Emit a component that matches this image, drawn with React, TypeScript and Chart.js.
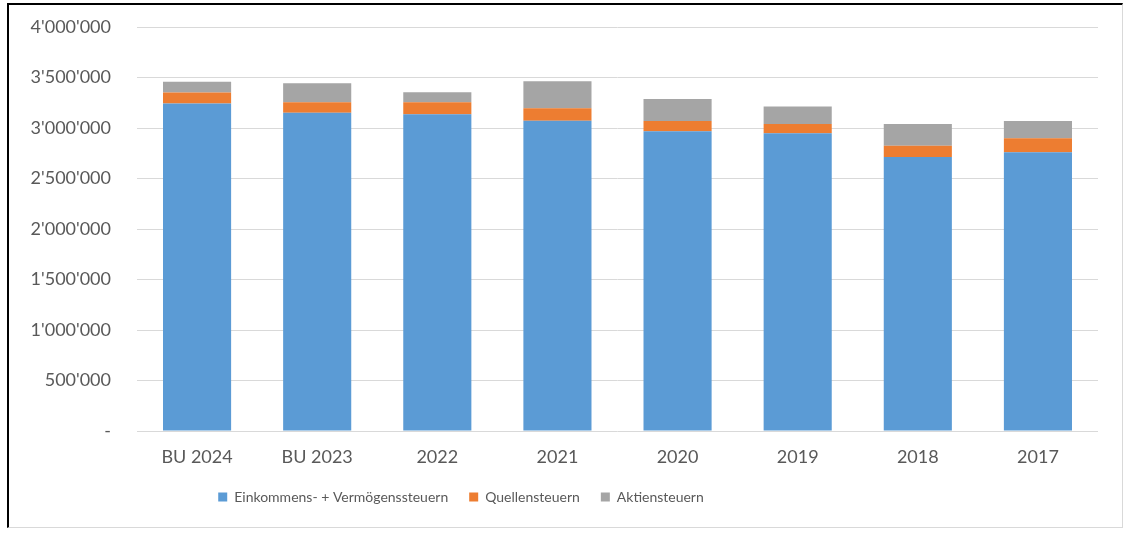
import React, { useEffect, useRef } from "react";
import { Chart, registerables } from "chart.js";

Chart.register(...registerables);

const categories = ["BU 2024", "BU 2023", "2022", "2021", "2020", "2019", "2018", "2017"];
const einkommen = [3243000, 3152000, 3136000, 3072000, 2967000, 2947000, 2713000, 2759000];
const quellen = [109000, 103000, 119000, 123000, 102000, 92000, 112000, 139000];
const aktien = [107000, 188000, 99000, 267000, 218000, 175000, 215000, 171000];
const seriesNames = ["Einkommens- + Vermögenssteuern", "Quellensteuern", "Aktiensteuern"];

const FONT = "Lato";
const LEGEND_SHIFT = -98;

function fmt(v: number): string {
  if (v === 0) return "-";
  return String(Math.round(v)).replace(/\B(?=(\d{3})+(?!\d))/g, "'");
}

const legendShift = {
  id: "legendShift",
  afterLayout(chart: any) {
    const lg = chart.legend;
    if (lg) {
      lg.left += LEGEND_SHIFT;
      lg.right += LEGEND_SHIFT;
    }
  },
};

export default function App() {
  const ref = useRef<HTMLCanvasElement | null>(null);
  useEffect(() => {
    document.body.style.margin = "0";
    const ctx = ref.current!.getContext("2d")!;
    const chart = new Chart(ctx, {
      type: "bar",
      data: {
        labels: categories,
        datasets: [
          { label: seriesNames[0], data: einkommen, backgroundColor: "#5B9BD5" },
          { label: seriesNames[1], data: quellen, backgroundColor: "#ED7D31" },
          { label: seriesNames[2], data: aktien, backgroundColor: "#A5A5A5" },
        ],
      },
      options: {
        animation: false,
        responsive: false,
        maintainAspectRatio: false,
        layout: { padding: { left: 20, right: 30, top: 27, bottom: 23 } },
        datasets: { bar: { barPercentage: 0.567, categoryPercentage: 1 } },
        scales: {
          x: {
            stacked: true,
            grid: { display: false, drawTicks: false },
            border: { display: false },
            afterFit: (s: any) => { s.height = 38; },
            ticks: { color: "#595959", font: { family: FONT, size: 18 }, padding: 15 },
          },
          y: {
            stacked: true,
            min: 0,
            max: 4000000,
            afterFit: (s: any) => { s.width = 117; s.paddingTop = 0; s.paddingBottom = 0; },
            grid: { color: "#d9d9d9", lineWidth: 1, drawTicks: false },
            border: { display: false },
            ticks: {
              stepSize: 500000,
              color: "#595959",
              font: { family: FONT, size: 18 },
              padding: 26,
              callback: (v: any) => fmt(Number(v)),
            },
          },
        },
        plugins: {
          legend: {
            position: "bottom",
            labels: {
              boxWidth: 9,
              boxHeight: 9,
              padding: 21,
              color: "#595959",
              font: { family: FONT, size: 14 },
            },
          },
          tooltip: { enabled: false },
        },
      },
      plugins: [legendShift],
    });
    return () => chart.destroy();
  }, []);
  return (
    <div style={{ position: "relative", width: 1128, height: 537, background: "#fff" }}>
      <div
        style={{
          position: "absolute",
          left: 7,
          top: 3,
          width: 1113,
          height: 522,
          borderTop: "2px solid #000",
          borderLeft: "2px solid #000",
          borderRight: "1px solid #d9d9d9",
          borderBottom: "1px solid #d9d9d9",
        }}
      />
      <canvas ref={ref} width={1128} height={537} style={{ position: "absolute", left: 0, top: 0 }} />
    </div>
  );
}
